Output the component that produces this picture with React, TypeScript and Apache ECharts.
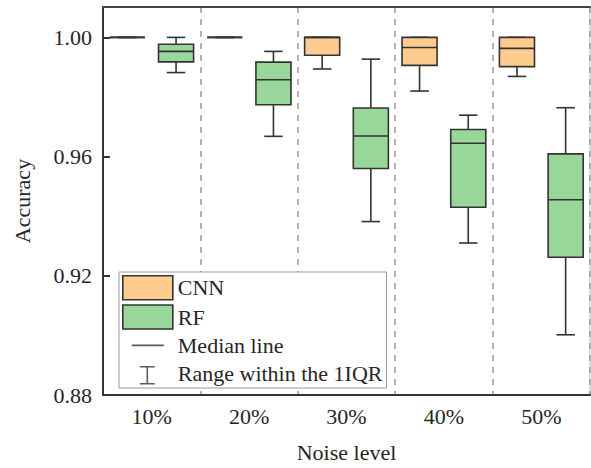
import React, { useEffect, useRef } from "react";
import * as echarts from "echarts";

const categories = ["10%", "20%", "30%", "40%", "50%"];
// [min, q1, median, q3, max]
const cnnStats = [
  [1.0, 1.0, 1.0, 1.0, 1.0],
  [1.0, 1.0, 1.0, 1.0, 1.0],
  [0.9894, 0.994, 1.0, 1.0, 1.0],
  [0.982, 0.9906, 0.9966, 1.0, 1.0],
  [0.9869, 0.9902, 0.9963, 1.0, 1.0],
];
const rfStats = [
  [0.9882, 0.9918, 0.9953, 0.9977, 1.0],
  [0.9668, 0.9774, 0.9858, 0.9917, 0.9953],
  [0.9382, 0.956, 0.9669, 0.9763, 0.9927],
  [0.931, 0.943, 0.9645, 0.9691, 0.9739],
  [0.9002, 0.9262, 0.9455, 0.9609, 0.9764],
];
const yTicks = [0.88, 0.92, 0.96, 1.0];

const FONT = "'Liberation Serif', 'Times New Roman', serif";
const TEXT = "#262626";
const EDGE = "#333333";
const CNN_FILL = "#FFCC90";
const RF_FILL = "#99D699";

function makeRender(offset: number, fill: string) {
  return (params: any, api: any) => {
    const idx = api.value(0);
    const lo = api.value(1);
    const q1 = api.value(2);
    const med = api.value(3);
    const q3 = api.value(4);
    const hi = api.value(5);
    const band = api.size([1, 0])[0];
    const cx = api.coord([idx, med])[0] + offset * band;
    const yOf = (v: number) => api.coord([idx, v])[1];
    const bw = band * 0.36;
    const cw = band * 0.19;
    const ls = { stroke: EDGE, lineWidth: 1.6 };
    return {
      type: "group",
      children: [
        { type: "line", shape: { x1: cx, y1: yOf(hi), x2: cx, y2: yOf(q3) }, style: ls },
        { type: "line", shape: { x1: cx, y1: yOf(q1), x2: cx, y2: yOf(lo) }, style: ls },
        { type: "line", shape: { x1: cx - cw / 2, y1: yOf(hi), x2: cx + cw / 2, y2: yOf(hi) }, style: ls },
        { type: "line", shape: { x1: cx - cw / 2, y1: yOf(lo), x2: cx + cw / 2, y2: yOf(lo) }, style: ls },
        {
          type: "rect",
          shape: { x: cx - bw / 2, y: yOf(q3), width: bw, height: yOf(q1) - yOf(q3) },
          style: { fill, stroke: EDGE, lineWidth: 1.6 },
        },
        { type: "line", shape: { x1: cx - bw / 2, y1: yOf(med), x2: cx + bw / 2, y2: yOf(med) }, style: ls },
      ],
    };
  };
}

const medianIcon = "path://M0,0 M50,24 M9,11.2 L41,11.2 L41,12.8 L9,12.8 Z";
const rangeIcon =
  "path://M0,0 M50,24 M17,5 L32,5 L32,6.6 L25.3,6.6 L25.3,21.9 L32,21.9 L32,23.5 L17,23.5 L17,21.9 L23.7,21.9 L23.7,6.6 L17,6.6 Z";

export default function App() {
  const ref = useRef<HTMLDivElement>(null);
  useEffect(() => {
    if (!ref.current) return;
    const chart = echarts.init(ref.current, null, { renderer: "svg" });
    const toData = (s: number[][]) => s.map((r, i) => [i, ...r]);
    chart.setOption({
      animation: false,
      backgroundColor: "#ffffff",
      textStyle: { fontFamily: FONT, color: TEXT },
      grid: {
        left: 103,
        right: 1,
        top: 7,
        bottom: 67,
        show: true,
        borderColor: "#bbbbbb",
        borderWidth: 1,
      },
      legend: {
        orient: "vertical",
        left: 119,
        top: 272,
        padding: [3, 4, 3, 3],
        itemWidth: 50,
        itemHeight: 24,
        itemGap: 3.6,
        backgroundColor: "#ffffff",
        borderColor: "#999999",
        borderWidth: 1,
        borderRadius: 0,
        selectedMode: false,
        textStyle: { fontFamily: FONT, fontSize: 22, color: TEXT },
        data: [
          { name: "CNN", icon: "rect", itemStyle: { color: CNN_FILL, borderColor: EDGE, borderWidth: 1.6 } },
          { name: "RF", icon: "rect", itemStyle: { color: RF_FILL, borderColor: EDGE, borderWidth: 1.6 } },
          { name: "Median line", icon: medianIcon, itemStyle: { color: EDGE, borderWidth: 0 } },
          { name: "Range within the 1IQR", icon: rangeIcon, itemStyle: { color: EDGE, borderWidth: 0 } },
        ],
      },
      xAxis: [
        {
          type: "category",
          data: categories,
          name: "Noise level",
          nameLocation: "middle",
          nameGap: 46,
          nameTextStyle: { fontFamily: FONT, fontSize: 22, color: TEXT },
          axisLine: { lineStyle: { color: EDGE, width: 2 } },
          axisTick: { inside: true, alignWithLabel: true, length: 7, lineStyle: { color: EDGE, width: 2 } },
          axisLabel: { fontFamily: FONT, fontSize: 22, color: TEXT, margin: 10 },
          splitLine: { show: true, lineStyle: { color: "#999999", type: [6, 6], width: 1.5 } },
        },
        {
          type: "category",
          data: categories,
          position: "top",
          axisLine: { show: true, lineStyle: { color: "#444444", width: 2 } },
          axisTick: { show: false },
          axisLabel: { show: false },
          splitLine: { show: false },
        },
      ],
      yAxis: {
        type: "value",
        min: yTicks[0],
        max: 1.0102,
        interval: 0.04,
        name: "Accuracy",
        nameLocation: "middle",
        nameGap: 70,
        nameTextStyle: { fontFamily: FONT, fontSize: 22, color: TEXT },
        axisLine: { show: true, lineStyle: { color: EDGE, width: 2 } },
        axisTick: { show: true, inside: true, length: 7, lineStyle: { color: EDGE, width: 2 } },
        axisLabel: {
          fontFamily: FONT,
          fontSize: 22,
          color: TEXT,
          margin: 11,
          showMaxLabel: false,
          formatter: (v: number) => v.toFixed(2),
        },
        splitLine: { show: false },
      },
      series: [
        {
          name: "CNN",
          type: "custom",
          xAxisIndex: 0,
          itemStyle: { color: CNN_FILL },
          renderItem: makeRender(-0.25, CNN_FILL),
          encode: { x: 0, y: [1, 2, 3, 4, 5] },
          data: toData(cnnStats),
        },
        {
          name: "RF",
          type: "custom",
          xAxisIndex: 0,
          itemStyle: { color: RF_FILL },
          renderItem: makeRender(0.25, RF_FILL),
          encode: { x: 0, y: [1, 2, 3, 4, 5] },
          data: toData(rfStats),
        },
        { name: "Median line", type: "scatter", data: [] },
        { name: "Range within the 1IQR", type: "scatter", data: [] },
      ],
    });
    return () => chart.dispose();
  }, []);
  return (
    <div
      ref={ref}
      style={{ position: "fixed", left: 0, top: 0, width: 591, height: 468 }}
    />
  );
}
